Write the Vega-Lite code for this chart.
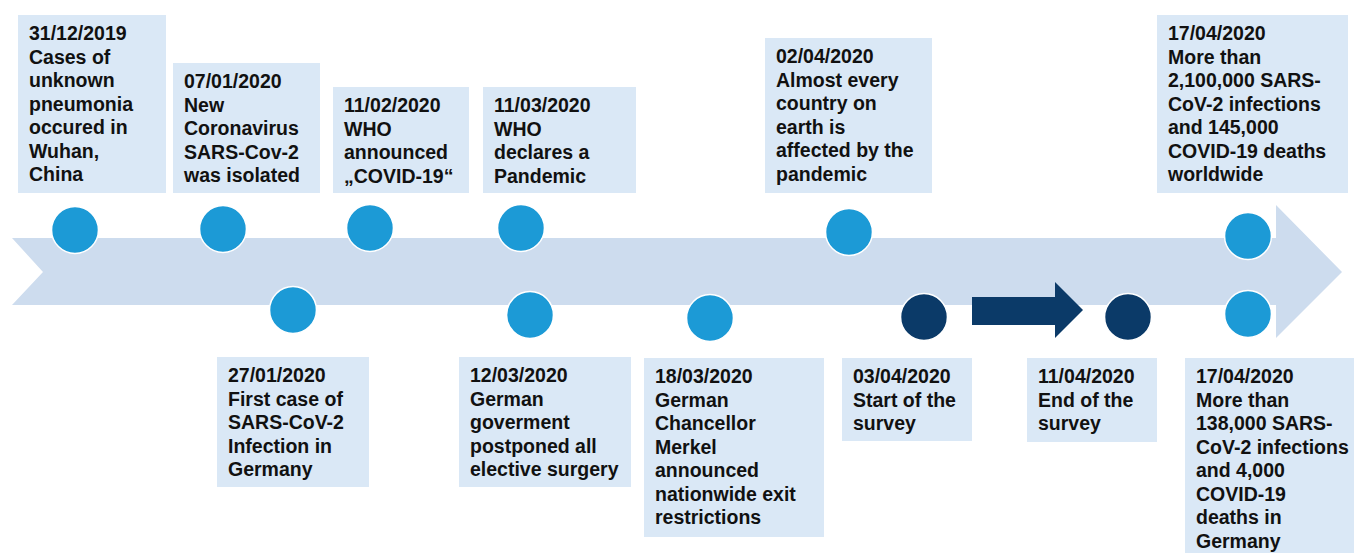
{
  "$schema": "https://vega.github.io/schema/vega-lite/v6.json",
  "width": 1356,
  "height": 553,
  "autosize": {"type": "fit", "contains": "padding"},
  "padding": 0,
  "background": "white",
  "config": {"view": {"stroke": null}},
  "datasets": {
    "timeline": [
      {"k": 1, "x": 12, "y": 238},
      {"k": 2, "x": 1276, "y": 238},
      {"k": 3, "x": 1276, "y": 205},
      {"k": 4, "x": 1342, "y": 272},
      {"k": 5, "x": 1276, "y": 338},
      {"k": 6, "x": 1276, "y": 305},
      {"k": 7, "x": 12, "y": 305},
      {"k": 8, "x": 43, "y": 272}
    ],
    "survey": [
      {"k": 1, "x": 972, "y": 297},
      {"k": 2, "x": 1055, "y": 297},
      {"k": 3, "x": 1055, "y": 282},
      {"k": 4, "x": 1083, "y": 310},
      {"k": 5, "x": 1055, "y": 338},
      {"k": 6, "x": 1055, "y": 325},
      {"k": 7, "x": 972, "y": 325}
    ],
    "events": [
      {"date": "31/12/2019", "label": "31/12/2019\nCases of\nunknown\npneumonia\noccured in\nWuhan,\nChina", "phase": "event", "x0": 18, "x1": 166, "y0": 15, "y1": 193, "cx": 75, "cy": 230},
      {"date": "07/01/2020", "label": "07/01/2020\nNew\nCoronavirus\nSARS-Cov-2\nwas isolated", "phase": "event", "x0": 173, "x1": 320, "y0": 63, "y1": 193, "cx": 223, "cy": 229},
      {"date": "11/02/2020", "label": "11/02/2020\nWHO\nannounced\n„COVID-19“", "phase": "event", "x0": 333, "x1": 469, "y0": 87, "y1": 193, "cx": 370, "cy": 228},
      {"date": "11/03/2020", "label": "11/03/2020\nWHO\ndeclares a\nPandemic", "phase": "event", "x0": 483, "x1": 636, "y0": 87, "y1": 193, "cx": 521, "cy": 228},
      {"date": "02/04/2020", "label": "02/04/2020\nAlmost every\ncountry on\nearth is\naffected by the\npandemic", "phase": "event", "x0": 765, "x1": 932, "y0": 38, "y1": 193, "cx": 849, "cy": 232},
      {"date": "17/04/2020", "label": "17/04/2020\nMore than\n2,100,000 SARS-\nCoV-2 infections\nand 145,000\nCOVID-19 deaths\nworldwide", "phase": "event", "x0": 1157, "x1": 1348, "y0": 15, "y1": 193, "cx": 1248, "cy": 236},
      {"date": "27/01/2020", "label": "27/01/2020\nFirst case of\nSARS-CoV-2\nInfection in\nGermany", "phase": "event", "x0": 217, "x1": 369, "y0": 357, "y1": 487, "cx": 293, "cy": 310},
      {"date": "12/03/2020", "label": "12/03/2020\nGerman\ngoverment\npostponed all\nelective surgery", "phase": "event", "x0": 459, "x1": 631, "y0": 357, "y1": 487, "cx": 530, "cy": 315},
      {"date": "18/03/2020", "label": "18/03/2020\nGerman\nChancellor\nMerkel\nannounced\nnationwide exit\nrestrictions", "phase": "event", "x0": 644, "x1": 824, "y0": 358, "y1": 537, "cx": 710, "cy": 318},
      {"date": "03/04/2020", "label": "03/04/2020\nStart of the\nsurvey", "phase": "survey", "x0": 842, "x1": 972, "y0": 358, "y1": 441, "cx": 924, "cy": 317},
      {"date": "11/04/2020", "label": "11/04/2020\nEnd of the\nsurvey", "phase": "survey", "x0": 1027, "x1": 1157, "y0": 358, "y1": 442, "cx": 1128, "cy": 317},
      {"date": "17/04/2020", "label": "17/04/2020\nMore than\n138,000 SARS-\nCoV-2 infections\nand 4,000\nCOVID-19\ndeaths in\nGermany", "phase": "event", "x0": 1185, "x1": 1354, "y0": 358, "y1": 553, "cx": 1248, "cy": 314}
    ]
  },
  "layer": [
    {
      "data": {"name": "timeline"},
      "mark": {"type": "line", "filled": true, "color": "#cddcee", "strokeWidth": 0, "interpolate": "linear"},
      "encoding": {
        "x": {"field": "x", "type": "quantitative", "scale": {"domain": [0, 1356], "nice": false, "zero": false}, "axis": null},
        "y": {"field": "y", "type": "quantitative", "scale": {"domain": [0, 553], "nice": false, "zero": false, "reverse": true}, "axis": null},
        "order": {"field": "k", "type": "quantitative"}
      }
    },
    {
      "data": {"name": "events"},
      "mark": {"type": "rect", "color": "#dae8f6"},
      "encoding": {
        "x": {"field": "x0", "type": "quantitative", "scale": {"domain": [0, 1356], "nice": false, "zero": false}, "axis": null},
        "x2": {"field": "x1"},
        "y": {"field": "y0", "type": "quantitative", "scale": {"domain": [0, 553], "nice": false, "zero": false, "reverse": true}, "axis": null},
        "y2": {"field": "y1"}
      }
    },
    {
      "data": {"name": "survey"},
      "mark": {"type": "line", "filled": true, "color": "#0b3a68", "strokeWidth": 0, "interpolate": "linear"},
      "encoding": {
        "x": {"field": "x", "type": "quantitative", "axis": null},
        "y": {"field": "y", "type": "quantitative", "axis": null},
        "order": {"field": "k", "type": "quantitative"}
      }
    },
    {
      "data": {"name": "events"},
      "mark": {"type": "point", "shape": "circle", "filled": true, "size": 2200, "opacity": 1, "stroke": "white", "strokeWidth": 1.5},
      "encoding": {
        "x": {"field": "cx", "type": "quantitative", "axis": null},
        "y": {"field": "cy", "type": "quantitative", "axis": null},
        "color": {"field": "phase", "type": "nominal", "scale": {"domain": ["event", "survey"], "range": ["#1c9ad6", "#0b3a68"]}, "legend": null}
      }
    },
    {
      "data": {"name": "events"},
      "mark": {"type": "text", "align": "left", "baseline": "alphabetic", "dx": 11, "dy": 25, "lineBreak": "\n", "lineHeight": 23.5, "font": "Liberation Sans", "fontWeight": "bold", "fontSize": 19.5, "color": "#111111"},
      "encoding": {
        "x": {"field": "x0", "type": "quantitative", "axis": null},
        "y": {"field": "y0", "type": "quantitative", "axis": null},
        "text": {"field": "label", "type": "nominal"}
      }
    }
  ]
}
